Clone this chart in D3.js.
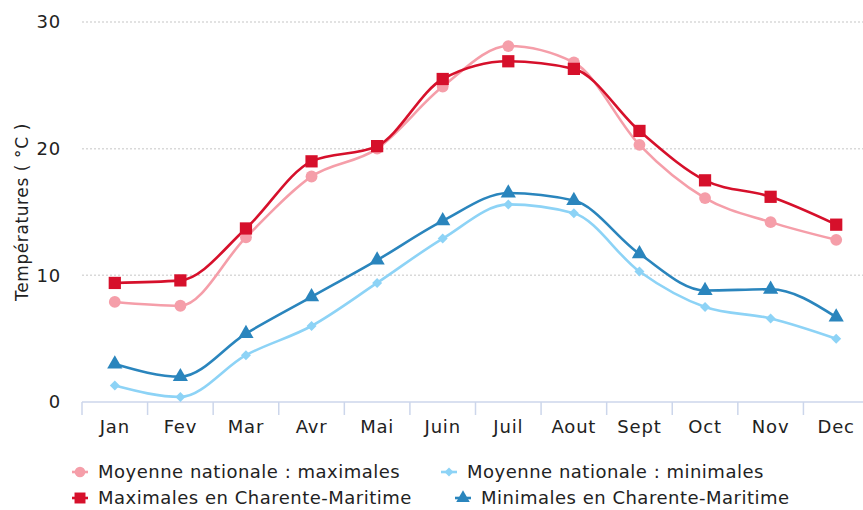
<!DOCTYPE html>
<html>
<head>
<meta charset="utf-8">
<script src="https://cdn.jsdelivr.net/npm/d3@7"></script>
<style>
  body { margin: 0; background: #fff; }
  svg { display: block; font-family: "DejaVu Sans", sans-serif; }
</style>
</head>
<body>
<svg width="863" height="510"></svg>
<script>
'use strict';

var months = ['Jan', 'Fev', 'Mar', 'Avr', 'Mai', 'Juin', 'Juil', 'Aout', 'Sept', 'Oct', 'Nov', 'Dec'];
var yTicks = [0, 10, 20, 30];

var natMax = [7.9, 7.6, 13.0, 17.8, 20.0, 24.9, 28.1, 26.8, 20.3, 16.1, 14.2, 12.8];
var natMin = [1.3, 0.4, 3.7, 6.0, 9.4, 12.9, 15.6, 14.9, 10.3, 7.5, 6.6, 5.0];
var cmMax = [9.4, 9.6, 13.7, 19.0, 20.2, 25.5, 26.9, 26.3, 21.4, 17.5, 16.2, 14.0];
var cmMin = [3.0, 2.0, 5.4, 8.3, 11.2, 14.3, 16.5, 15.9, 11.7, 8.8, 8.9, 6.7];

// rot: diamonds are squares turned 45 degrees
var series = [
	{name: 'Moyenne nationale : maximales', values: natMax, color: '#f59ea9', symbol: d3.symbolCircle, size: 110, rot: 0, lx: 80, ly: 472},
	{name: 'Moyenne nationale : minimales', values: natMin, color: '#8dd3f6', symbol: d3.symbolSquare, size: 50, rot: 45, lx: 449, ly: 472},
	{name: 'Maximales en Charente-Maritime', values: cmMax, color: '#d6102b', symbol: d3.symbolSquare, size: 150, rot: 0, lx: 80, ly: 498},
	{name: 'Minimales en Charente-Maritime', values: cmMin, color: '#2a85bd', symbol: d3.symbolTriangle, size: 100, rot: 0, lx: 463, ly: 498}
];

var svg = d3.select('svg');
var plotL = 82, plotR = 869, plotT = 22, plotB = 402;

var x = d3.scaleBand().domain(months).range([plotL, plotR]).paddingInner(0).paddingOuter(0);
var y = d3.scaleLinear().domain([0, 30]).range([plotB, plotT]);
var cx = function (d) { return x(d) + x.bandwidth() / 2; };

// grid
svg.append('g').selectAll('line')
	.data(yTicks.filter(function (t) { return t > 0; }))
	.enter().append('line')
	.attr('x1', plotL).attr('x2', 863)
	.attr('y1', function (d) { return y(d); }).attr('y2', function (d) { return y(d); })
	.attr('stroke', '#d9d9d9').attr('stroke-width', 1.5).attr('stroke-dasharray', '2,2');

// y labels
svg.append('g').selectAll('text')
	.data(yTicks).enter().append('text')
	.attr('x', 61).attr('y', function (d) { return y(d); })
	.attr('dy', '0.35em').attr('text-anchor', 'end')
	.attr('font-size', 18).attr('letter-spacing', 0.8).attr('fill', '#222')
	.text(function (d) { return d; });

svg.append('text')
	.attr('transform', 'translate(22,' + 212 + ') rotate(-90)')
	.attr('text-anchor', 'middle').attr('dy', '0.35em')
	.attr('font-size', 17).attr('letter-spacing', 0.6).attr('fill', '#222')
	.text('Températures ( °C )');

// x axis
svg.append('line')
	.attr('x1', plotL).attr('x2', 863).attr('y1', plotB).attr('y2', plotB)
	.attr('stroke', '#ccd6eb').attr('stroke-width', 1.5);

svg.append('g').selectAll('line')
	.data(months).enter().append('line')
	.attr('x1', function (d) { return x(d); }).attr('x2', function (d) { return x(d); })
	.attr('y1', plotB).attr('y2', plotB + 13)
	.attr('stroke', '#ccd6eb').attr('stroke-width', 1.5);

svg.append('g').selectAll('text')
	.data(months).enter().append('text')
	.attr('x', cx).attr('y', 427)
	.attr('dy', '0.35em').attr('text-anchor', 'middle')
	.attr('font-size', 18).attr('letter-spacing', 0.8).attr('fill', '#222')
	.text(function (d) { return d; });

// lines
var line = d3.line()
	.x(function (d, i) { return cx(months[i]); })
	.y(function (d) { return y(d); })
	.curve(d3.curveMonotoneX);

series.forEach(function (s) {
	svg.append('path')
		.attr('d', line(s.values))
		.attr('fill', 'none').attr('stroke', s.color).attr('stroke-width', 2.6);
});

series.forEach(function (s) {
	svg.append('g').selectAll('path')
		.data(s.values).enter().append('path')
		.attr('d', d3.symbol().type(s.symbol).size(s.size))
		.attr('transform', function (d, i) { return 'translate(' + cx(months[i]) + ',' + y(d) + ') rotate(' + s.rot + ')'; })
		.attr('fill', s.color);
});

// legend
series.forEach(function (s) {
	var g = svg.append('g').attr('transform', 'translate(' + s.lx + ',' + s.ly + ')');
	g.append('line').attr('x1', -8).attr('x2', 8)
		.attr('stroke', s.color).attr('stroke-width', 2.6);
	g.append('path')
		.attr('d', d3.symbol().type(s.symbol).size(s.size * 0.8))
		.attr('transform', 'rotate(' + s.rot + ')')
		.attr('fill', s.color);
	g.append('text')
		.attr('x', 18).attr('dy', '0.35em')
		.attr('font-size', 18).attr('letter-spacing', 0.5).attr('fill', '#222')
		.text(s.name);
});
</script>
</body>
</html>
